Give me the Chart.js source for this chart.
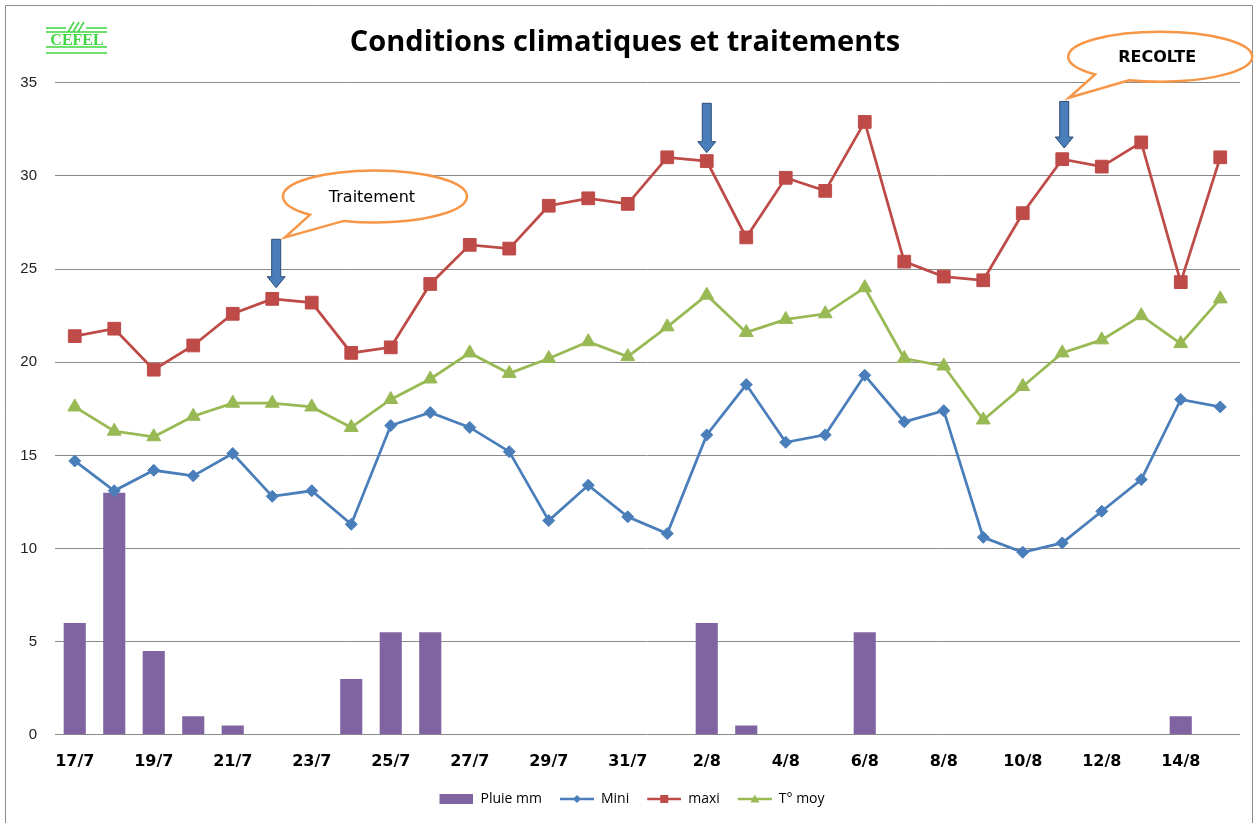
<!DOCTYPE html>
<html>
<head>
<meta charset="utf-8">
<script src="https://cdn.jsdelivr.net/npm/chart.js@4.4.1/dist/chart.umd.min.js"></script>
<style>
  html, body { margin: 0; padding: 0; background: #fff; }
  #wrap { width: 1256px; height: 823px; }
</style>
</head>
<body>
<div id="wrap"><canvas id="chart" width="1256" height="823"></canvas></div>
<script>
// daily readings, 17/7 -> 15/8
const labels = [
  "17/7", "18/7", "19/7", "20/7", "21/7", "22/7", "23/7", "24/7", "25/7", "26/7",
  "27/7", "28/7", "29/7", "30/7", "31/7", "1/8", "2/8", "3/8", "4/8", "5/8",
  "6/8", "7/8", "8/8", "9/8", "10/8", "11/8", "12/8", "13/8", "14/8", "15/8"
]
const pluie = [6, 13, 4.5, 1, 0.5, 0, 0, 3, 5.5, 5.5, 0, 0, 0, 0, 0, 0, 6, 0.5, 0, 0, 5.5, 0, 0, 0, 0, 0, 0, 0, 1, 0]
const mini = [14.7, 13.1, 14.2, 13.9, 15.1, 12.8, 13.1, 11.3, 16.6, 17.3, 16.5, 15.2, 11.5, 13.4, 11.7, 10.8, 16.1, 18.8, 15.7, 16.1, 19.3, 16.8, 17.4, 10.6, 9.8, 10.3, 12.0, 13.7, 18.0, 17.6]
const maxi = [21.4, 21.8, 19.6, 20.9, 22.6, 23.4, 23.2, 20.5, 20.8, 24.2, 26.3, 26.1, 28.4, 28.8, 28.5, 31.0, 30.8, 26.7, 29.9, 29.2, 32.9, 25.4, 24.6, 24.4, 28.0, 30.9, 30.5, 31.8, 24.3, 31.0]
const tmoy = [17.6, 16.3, 16.0, 17.1, 17.8, 17.8, 17.6, 16.5, 18.0, 19.1, 20.5, 19.4, 20.2, 21.1, 20.3, 21.9, 23.6, 21.6, 22.3, 22.6, 24.0, 20.2, 19.8, 16.9, 18.7, 20.5, 21.2, 22.5, 21.0, 23.4]
const yTicks = [0, 5, 10, 15, 20, 25, 30, 35]

const colors = {
  pluie: "#8064a2",
  mini: "#4a7ebb",
  maxi: "#be4b48",
  tmoy: "#98b954",
}

// arrows and callouts, placed in data units (category index, value)
const arrows = [
  { i: 5.1, top: 26.6, tip: 24.0 },
  { i: 16, top: 33.9, tip: 31.25 },
  { i: 25.05, top: 34.0, tip: 31.5 },
]
const callouts = [
  { text: "Traitement", bold: false, i: 7.6, v: 28.9, rx: 92, ry: 26, tipI: 5.32, tipV: 26.7 },
  { text: "RECOLTE", bold: true, i: 27.48, v: 36.4, rx: 92, ry: 25, tipI: 25.17, tipV: 34.2 },
]

// legend sample: 14px blank on the left, then a 34px line/box
function legendImage(color, marker) {
  const c = document.createElement("canvas")
  c.width = 48
  c.height = 14
  const g = c.getContext("2d")
  g.fillStyle = color
  g.strokeStyle = color
  if (marker === "bar") {
    g.fillRect(14, 2, 34, 10)
    return c
  }
  g.lineWidth = 2.5
  g.beginPath()
  g.moveTo(14, 7)
  g.lineTo(48, 7)
  g.stroke()
  g.beginPath()
  if (marker === "diamond") {
    g.moveTo(31, 3); g.lineTo(35, 7); g.lineTo(31, 11); g.lineTo(27, 7)
  } else if (marker === "square") {
    g.rect(27, 3, 8, 8)
  } else {
    g.moveTo(31, 2.5); g.lineTo(35.5, 10.5); g.lineTo(26.5, 10.5)
  }
  g.closePath()
  g.fill()
  return c
}

const legendMarkers = ["bar", "diamond", "square", "triangle"]

const decorations = {
  id: "decorations",
  afterDraw(chart) {
    const { ctx, scales: { x, y } } = chart
    const px = (i, v) => [x.getPixelForValue(i), y.getPixelForValue(v)]
    ctx.save()

    // outer frame
    ctx.strokeStyle = "#8c8c8c"
    ctx.lineWidth = 1
    ctx.beginPath()
    ctx.moveTo(5.5, 823)
    ctx.lineTo(5.5, 5.5)
    ctx.lineTo(1252.5, 5.5)
    ctx.lineTo(1252.5, 823)
    ctx.stroke()

    // logo
    ctx.strokeStyle = "#3fd63f"
    ctx.fillStyle = "#3fd63f"
    ctx.lineWidth = 1.5
    ctx.beginPath()
    ctx.moveTo(46, 28); ctx.lineTo(66, 28)
    ctx.moveTo(86, 28); ctx.lineTo(107, 28)
    for (let k = 0; k < 3; k++) {
      ctx.moveTo(68 + k * 5, 32); ctx.lineTo(74 + k * 5, 22)
    }
    ctx.moveTo(46, 32); ctx.lineTo(107, 32)
    ctx.moveTo(46, 47); ctx.lineTo(107, 47)
    ctx.moveTo(46, 53); ctx.lineTo(107, 53)
    ctx.stroke()
    ctx.font = "bold 16px 'Liberation Serif'"
    ctx.textAlign = "center"
    ctx.textBaseline = "middle"
    ctx.fillText("CEFEL", 77, 40.5)

    // arrows
    arrows.forEach(a => {
      const [cx, yTop] = px(a.i, a.top)
      const yTip = y.getPixelForValue(a.tip)
      ctx.beginPath()
      ctx.moveTo(cx - 4.5, yTop)
      ctx.lineTo(cx + 4.5, yTop)
      ctx.lineTo(cx + 4.5, yTip - 11)
      ctx.lineTo(cx + 9, yTip - 11)
      ctx.lineTo(cx, yTip)
      ctx.lineTo(cx - 9, yTip - 11)
      ctx.lineTo(cx - 4.5, yTip - 11)
      ctx.closePath()
      ctx.fillStyle = "#4a7ebb"
      ctx.fill()
      ctx.strokeStyle = "#2c4d75"
      ctx.lineWidth = 1
      ctx.stroke()
    })

    // callouts
    callouts.forEach(c => {
      const [cx, cy] = px(c.i, c.v)
      const [tx, ty] = px(c.tipI, c.tipV)
      ctx.beginPath()
      ctx.ellipse(cx, cy, c.rx, c.ry, 0, Math.PI * 0.75, Math.PI * 0.61, false)
      ctx.lineTo(tx, ty)
      ctx.closePath()
      ctx.fillStyle = "#fff"
      ctx.fill()
      ctx.strokeStyle = "#f79646"
      ctx.lineWidth = 2.5
      ctx.stroke()
      ctx.fillStyle = "#000"
      ctx.font = (c.bold ? "bold " : "") + "16px 'DejaVu Sans'"
      ctx.textAlign = "center"
      ctx.textBaseline = "middle"
      ctx.fillText(c.text, cx - 3, cy + 1)
    })

    ctx.restore()
  },
}

const ctx = document.getElementById("chart").getContext("2d")

new Chart(ctx, {
  type: "bar",
  data: {
    labels,
    datasets: [
      {
        type: "bar",
        label: "Pluie mm",
        data: pluie,
        backgroundColor: colors.pluie,
        categoryPercentage: 0.56,
        barPercentage: 1,
        order: 5,
      },
      {
        type: "line",
        label: "Mini",
        data: mini,
        borderColor: colors.mini,
        borderWidth: 2.75,
        tension: 0,
        pointStyle: "rectRot",
        pointRadius: 6,
        pointBackgroundColor: colors.mini,
        pointBorderColor: colors.mini,
        pointBorderWidth: 1,
        order: 1,
      },
      {
        type: "line",
        label: "maxi",
        data: maxi,
        borderColor: colors.maxi,
        borderWidth: 2.75,
        tension: 0,
        pointStyle: "rect",
        pointRadius: 9,
        pointBackgroundColor: colors.maxi,
        pointBorderColor: colors.maxi,
        pointBorderWidth: 1,
        order: 2,
      },
      {
        type: "line",
        label: "T° moy",
        data: tmoy,
        borderColor: colors.tmoy,
        borderWidth: 2.75,
        tension: 0,
        pointStyle: "triangle",
        pointRadius: 8,
        pointBackgroundColor: colors.tmoy,
        pointBorderColor: colors.tmoy,
        pointBorderWidth: 1,
        order: 3,
      },
    ],
  },
  options: {
    responsive: false,
    animation: false,
    layout: {
      padding: { left: 10, right: 16, top: 0, bottom: 7 },
    },
    plugins: {
      title: {
        display: true,
        text: "Conditions climatiques et traitements",
        color: "#000",
        font: { family: "'Open Sans'", size: 29, weight: "bold" },
        padding: { top: 25, bottom: 23 },
      },
      legend: {
        position: "bottom",
        labels: {
          usePointStyle: true,
          pointStyleWidth: 48,
          padding: 4,
          color: "#404040",
          font: { family: "'Open Sans'", size: 14 },
          generateLabels(chart) {
            return chart.data.datasets.map((ds, i) => ({
              text: ds.label,
              fillStyle: colors[Object.keys(colors)[i]],
              strokeStyle: colors[Object.keys(colors)[i]],
              lineWidth: 0,
              pointStyle: legendImage(colors[Object.keys(colors)[i]], legendMarkers[i]),
              hidden: false,
              datasetIndex: i,
            }))
          },
        },
      },
      tooltip: { enabled: false },
    },
    scales: {
      x: {
        grid: { display: false, drawTicks: false },
        border: { display: false },
        ticks: {
          autoSkip: false,
          maxRotation: 0,
          color: "#000",
          padding: 17,
          font: { family: "'DejaVu Sans'", size: 16, weight: "bold" },
          callback(value, index) {
            return index % 2 === 0 ? this.getLabelForValue(value) : ""
          },
        },
      },
      y: {
        min: 0,
        max: 35,
        afterBuildTicks(scale) {
          scale.ticks = yTicks.map(v => ({ value: v }))
        },
        afterFit(scale) {
          scale.width = 45
        },
        grid: { color: "#8a8a8a", lineWidth: 1, drawTicks: false },
        border: { display: false },
        ticks: {
          color: "#222",
          padding: 18,
          font: { family: "'Liberation Sans'", size: 15 },
        },
      },
    },
  },
  plugins: [decorations],
})
</script>
</body>
</html>
